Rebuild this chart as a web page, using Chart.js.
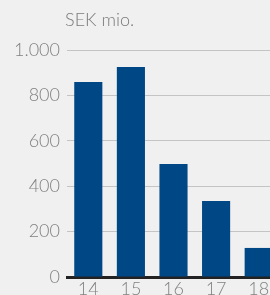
<!DOCTYPE html>
<html><head><meta charset="utf-8">
<script src="https://cdn.jsdelivr.net/npm/chart.js@4"></script>
<style>
html,body{margin:0;padding:0;background:#f0f0f0;overflow:hidden;width:270px;height:295px}
#wrap{width:280px;height:295px;position:relative}
</style></head><body>
<div id="wrap"><canvas id="c" width="280" height="295"></canvas></div>
<script>
const categories = ['14','15','16','17','18'];
const values = [859, 925, 498, 335, 128];
const yTickLabels = {0:'0',200:'200',400:'400',600:'600',800:'800',1000:'1.000'};
const unitLabel = 'SEK mio.';

const titlePlugin = {
  id:'unitTitle',
  afterDraw(chart){
    const ctx = chart.ctx;
    ctx.save();
    ctx.font = '300 18px Lato';
    ctx.fillStyle = '#7a7a7a';
    ctx.textBaseline = 'middle';
    ctx.textAlign = 'left';
    ctx.fillText(unitLabel, 65, 20);
    ctx.restore();
  }
};

new Chart(document.getElementById('c'), {
  type:'bar',
  data:{labels:categories, datasets:[{data:values, backgroundColor:'#004785', categoryPercentage:1, barPercentage:0.66}]},
  options:{
    responsive:false, animation:false,
    layout:{padding:{top:50,left:0,right:0,bottom:0}},
    plugins:{legend:{display:false}, tooltip:{enabled:false}},
    scales:{
      x:{
        grid:{display:false, drawTicks:false},
        border:{color:'#222', width:3},
        ticks:{color:'#808080', font:{family:'Lato', weight:300, size:18}, padding:1},
        afterFit(s){ s.height = 18; }
      },
      y:{
        min:0, max:1000,
        grid:{color:'#c4c4c4', lineWidth:1, drawTicks:false},
        border:{display:false},
        ticks:{stepSize:200, color:'#808080', font:{family:'Lato', weight:300, size:18}, padding:7,
          callback:(v)=>yTickLabels[v]},
        afterFit(s){ s.width = 67; }
      }
    }
  },
  plugins:[titlePlugin]
});
</script></body></html>
